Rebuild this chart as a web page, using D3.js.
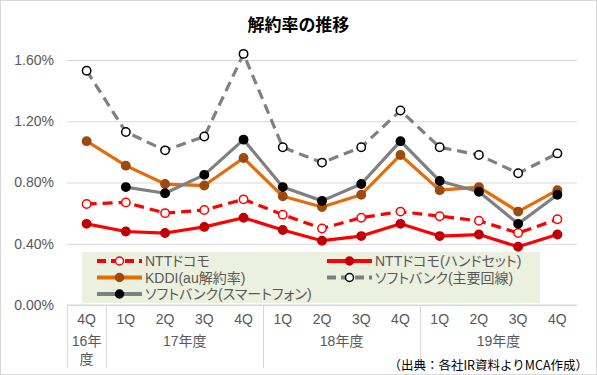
<!DOCTYPE html>
<html>
<head>
<meta charset="utf-8">
<script src="https://cdn.jsdelivr.net/npm/d3@7"></script>
<style>
  body { margin: 0; background: #fff; }
  svg text { font-family: "Liberation Sans", Arial, "Noto Sans CJK JP", sans-serif; font-feature-settings: "palt"; }
  svg text.note { font-feature-settings: normal; }
</style>
</head>
<body>
<div id="chart"></div>
<script>
// categories
const quarters = ["4Q", "1Q", "2Q", "3Q", "4Q", "1Q", "2Q", "3Q", "4Q", "1Q", "2Q", "3Q", "4Q"];
const years = [
  {label: ["16年", "度"], from: 0, to: 0},
  {label: ["17年度"], from: 1, to: 4},
  {label: ["18年度"], from: 5, to: 8},
  {label: ["19年度"], from: 9, to: 12}
];
const yTicks = [0, 0.4, 0.8, 1.2, 1.6];

// series values (%)
const docomo       = [0.66, 0.67, 0.60, 0.62, 0.69, 0.59, 0.50, 0.57, 0.61, 0.58, 0.55, 0.47, 0.56];
const docomoHand   = [0.53, 0.48, 0.47, 0.51, 0.57, 0.49, 0.42, 0.45, 0.53, 0.45, 0.46, 0.38, 0.46];
const kddi         = [1.07, 0.91, 0.79, 0.78, 0.96, 0.71, 0.64, 0.72, 0.98, 0.75, 0.77, 0.61, 0.75];
const sbMain       = [1.53, 1.13, 1.01, 1.10, 1.64, 1.03, 0.93, 1.03, 1.27, 1.03, 0.98, 0.86, 0.99];
const sbSmart      = [null, 0.77, 0.73, 0.85, 1.08, 0.77, 0.68, 0.79, 1.07, 0.81, 0.74, 0.53, 0.72];

const series = [
  {name: "NTTドコモ", values: docomo, line: "#FF0000", dash: "10,6", fill: "#fff", stroke: "#FF0000"},
  {name: "NTTドコモ(ハンドセット)", values: docomoHand, line: "#FF0000", dash: null, fill: "#C00000", stroke: "#C00000"},
  {name: "KDDI(au解約率)", values: kddi, line: "#E46C0A", dash: null, fill: "#9C4A12", stroke: "#9C4A12"},
  {name: "ソフトバンク(主要回線)", values: sbMain, line: "#808080", dash: "10,6", fill: "#fff", stroke: "#000"},
  {name: "ソフトバンク(スマートフォン)", values: sbSmart, line: "#808080", dash: null, fill: "#000", stroke: "#000"}
];

const W = 597, H = 375;
const plot = {left: 67, right: 577, top: 60, bottom: 305};

const svg = d3.select("#chart").append("svg")
  .attr("width", W)
  .attr("height", H);

// chart border
svg.append("rect")
  .attr("x", 0.5).attr("y", 0.5)
  .attr("width", W - 1).attr("height", H - 1)
  .attr("fill", "#fff")
  .attr("stroke", "#d9d9d9");

// title
svg.append("text")
  .attr("x", W / 2)
  .attr("y", 31)
  .attr("text-anchor", "middle")
  .attr("font-size", "17px")
  .attr("font-weight", "bold")
  .attr("fill", "#000")
  .style("font-family", "'Noto Sans CJK JP', sans-serif")
  .text("解約率の推移");

const x = d3.scalePoint()
  .domain(d3.range(quarters.length))
  .range([plot.left, plot.right])
  .padding(0.5);
const step = x.step();

const y = d3.scaleLinear()
  .domain([0, 1.6])
  .range([plot.bottom, plot.top]);

// gridlines + y labels
const yAxis = d3.axisLeft(y)
  .tickValues(yTicks)
  .tickSize(-(plot.right - plot.left))
  .tickFormat(d => d.toFixed(2) + "%");

const gy = svg.append("g")
  .attr("transform", `translate(${plot.left},0)`)
  .call(yAxis);
gy.select(".domain").remove();
gy.selectAll(".tick line").attr("stroke", "#d9d9d9");
gy.selectAll(".tick text")
  .attr("x", -13)
  .attr("font-size", "14px")
  .attr("fill", "#595959");

// legend box
const legend = svg.append("g");
legend.append("rect")
  .attr("x", 82).attr("y", 252)
  .attr("width", 458).attr("height", 51)
  .attr("fill", "#EBF0DF");

const legendPos = [
  {col: 0, row: 0}, {col: 1, row: 0}, {col: 0, row: 1}, {col: 1, row: 1}, {col: 0, row: 2}
];
const colX = [97, 327];
const rowY = [261, 277.5, 294];

series.forEach((s, i) => {
  const p = legendPos[i];
  const lx = colX[p.col], ly = rowY[p.row];
  legend.append("line")
    .attr("x1", lx).attr("x2", lx + 45)
    .attr("y1", ly).attr("y2", ly)
    .attr("stroke", s.line)
    .attr("stroke-width", 4)
    .attr("stroke-dasharray", s.dash ? "9,5" : null);
  legend.append("circle")
    .attr("cx", lx + 22.5).attr("cy", ly).attr("r", 4)
    .attr("fill", s.fill)
    .attr("stroke", s.stroke)
    .attr("stroke-width", 1.5);
  legend.append("text")
    .attr("x", lx + 48).attr("y", ly)
    .attr("dy", "0.36em")
    .attr("font-size", "14px")
    .attr("fill", "#595959")
    .text(s.name);
});

// x axis: baseline, separators, labels
const axisG = svg.append("g");
axisG.append("line")
  .attr("x1", plot.left).attr("x2", plot.right)
  .attr("y1", plot.bottom).attr("y2", plot.bottom)
  .attr("stroke", "#d9d9d9");

const seps = [0].concat(years.map(d => d.to + 1));
axisG.selectAll(".sep")
  .data(seps)
  .join("line")
  .attr("class", "sep")
  .attr("x1", d => Math.round(x(d) - step / 2) + 0.5)
  .attr("x2", d => Math.round(x(d) - step / 2) + 0.5)
  .attr("y1", plot.bottom)
  .attr("y2", 368)
  .attr("stroke", "#d9d9d9");

axisG.selectAll(".q")
  .data(quarters)
  .join("text")
  .attr("class", "q")
  .attr("x", (d, i) => x(i))
  .attr("y", 324)
  .attr("text-anchor", "middle")
  .attr("font-size", "14px")
  .attr("fill", "#595959")
  .text(d => d);

years.forEach(g => {
  const cx = (x(g.from) + x(g.to)) / 2;
  g.label.forEach((t, j) => {
    axisG.append("text")
      .attr("x", cx)
      .attr("y", 346 + j * 18)
      .attr("text-anchor", "middle")
      .attr("font-size", "14px")
      .attr("fill", "#595959")
      .text(t);
  });
});

// lines + markers
const line = d3.line()
  .defined(d => d != null)
  .x((d, i) => x(i))
  .y(d => y(d));

series.forEach(s => {
  const g = svg.append("g");
  g.append("path")
    .datum(s.values)
    .attr("d", line)
    .attr("fill", "none")
    .attr("stroke", s.line)
    .attr("stroke-width", 3.2)
    .attr("stroke-linejoin", "round")
    .attr("stroke-dasharray", s.dash);
  g.selectAll("circle")
    .data(s.values.map((v, i) => ({v, i})).filter(d => d.v != null))
    .join("circle")
    .attr("cx", d => x(d.i))
    .attr("cy", d => y(d.v))
    .attr("r", 4.2)
    .attr("fill", s.fill)
    .attr("stroke", s.stroke)
    .attr("stroke-width", 1.5);
});

// source note
svg.append("text")
  .attr("class", "note")
  .attr("x", 588)
  .attr("y", 370)
  .attr("text-anchor", "end")
  .attr("font-size", "12.5px")
  .attr("fill", "#000")
  .style("font-family", "'Noto Sans CJK JP', sans-serif")
  .text("（出典：各社IR資料よりMCA作成）");
</script>
</body>
</html>
